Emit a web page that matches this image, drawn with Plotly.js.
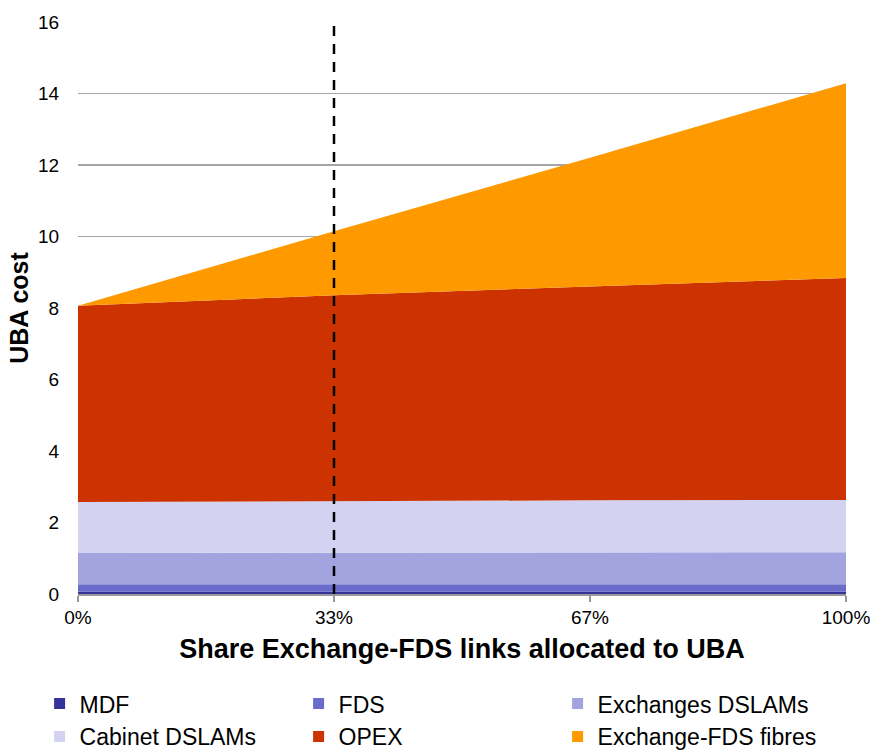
<!DOCTYPE html>
<html>
<head>
<meta charset="utf-8">
<script src="https://cdn.plot.ly/plotly-3.0.1.min.js"></script>
<style>html,body{margin:0;padding:0;background:#fff;}#chart{width:872px;height:754px;}</style>
</head>
<body>
<div id="chart"></div>
<script>
var categories = ['0%', '33%', '67%', '100%'];
var seriesNames = ['MDF', 'FDS', 'Exchanges DSLAMs', 'Cabinet DSLAMs', 'OPEX', 'Exchange-FDS fibres'];
var mdf = [0.06, 0.06, 0.06, 0.06];
var fds = [0.21, 0.21, 0.21, 0.21];
var exchangesDslams = [0.88, 0.88, 0.89, 0.90];
var cabinetDslams = [1.42, 1.45, 1.46, 1.46];
var opex = [5.49, 5.76, 5.98, 6.21];
var fibres = [0.00, 1.79, 3.60, 5.45];
var markerCategory = '33%';
var yMax = 16;
var colors = ['#333399', '#6b6bcc', '#a3a3e0', '#d3d3f1', '#cc3300', '#ff9900'];

var seriesValues = [mdf, fds, exchangesDslams, cabinetDslams, opex, fibres];
var traces = [];
seriesValues.forEach(function (vals, i) {
  traces.push({
    type: 'scatter', mode: 'lines', x: categories, y: vals,
    stackgroup: 'one', fillcolor: colors[i], line: {width: 0, color: colors[i]},
    name: seriesNames[i], showlegend: false, hoverinfo: 'skip'
  });
});
traces.push({
  type: 'scatter', mode: 'lines', x: [markerCategory, markerCategory], y: [0, yMax],
  line: {color: '#000', width: 2.5, dash: '10px,8px'}, showlegend: false, hoverinfo: 'skip'
});
seriesNames.forEach(function (n, i) {
  traces.push({
    type: 'scatter', mode: 'markers', x: [null], y: [null], name: n,
    marker: {symbol: 'square', size: 11, color: colors[i]}, showlegend: true
  });
});

var layout = {
  width: 872, height: 754,
  margin: {l: 78, r: 26, t: 22, b: 160, autoexpand: false},
  paper_bgcolor: '#fff', plot_bgcolor: '#fff',
  font: {family: 'Liberation Sans, Arial, sans-serif', color: '#000'},
  showlegend: true,
  legend: {
    orientation: 'h', x: -0.05, xanchor: 'left', y: -0.154, yanchor: 'top',
    entrywidth: 214, entrywidthmode: 'pixels',
    font: {size: 23, color: '#000'}, bgcolor: 'rgba(0,0,0,0)', traceorder: 'normal'
  },
  xaxis: {
    type: 'category', categoryorder: 'array', categoryarray: categories,
    range: [0, categories.length - 1],
    showgrid: false, zeroline: false,
    showline: true, linecolor: '#999', linewidth: 1.5,
    ticks: 'outside', ticklen: 6, tickcolor: '#999', tickwidth: 1.5,
    tickfont: {size: 19},
    title: {text: '<b>Share Exchange-FDS links allocated to UBA</b>', font: {size: 27}, standoff: 12},
    automargin: false
  },
  yaxis: {
    range: [0, yMax], dtick: 2, showgrid: true, gridcolor: '#a6a6a6', gridwidth: 1.5,
    zeroline: false, showline: false,
    ticks: 'outside', ticklen: 14, tickcolor: 'rgba(0,0,0,0)',
    tickfont: {size: 19},
    title: {text: '<b>UBA cost</b>', font: {size: 25}, standoff: 2},
    automargin: false
  }
};

Plotly.newPlot('chart', traces, layout, {displayModeBar: false, staticPlot: true});
</script>
</body>
</html>
